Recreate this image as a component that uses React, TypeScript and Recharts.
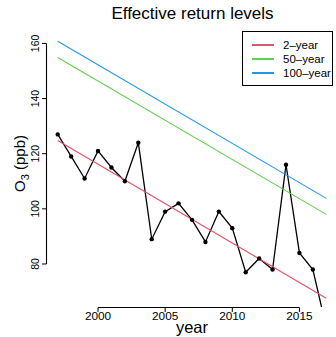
import {
  ComposedChart,
  Line,
  XAxis,
  YAxis,
  Legend,
} from 'recharts';

const years = [
  1997, 1998, 1999, 2000, 2001, 2002, 2003, 2004, 2005, 2006, 2007,
  2008, 2009, 2010, 2011, 2012, 2013, 2014, 2015, 2016, 2017,
];
const ozone = [
  127, 119, 111, 121, 115, 110, 124, 89, 99, 102, 96,
  88, 99, 93, 77, 82, 78, 116, 84, 78, 57,
];

// effective return levels: straight trend lines, start and end values
const levelYears = [1997, 2017];
const level2 = [124.8, 67.6];
const level50 = [154.9, 98.0];
const level100 = [160.8, 103.8];

const xTicks = [2000, 2005, 2010, 2015];
const yTicks = [80, 100, 120, 140, 160];
const xDomain = [1996.2, 2017.5];
const yDomain = [64.4, 164.5];

const W = 336;
const H = 337;
const M = { top: 31, right: 3, bottom: 0, left: 0 };
const Y_W = 47;
const X_H = 30;
const plotW = W - M.left - M.right - Y_W;
const plotH = H - M.top - M.bottom - X_H;
const pxPerYear = plotW / (xDomain[1] - xDomain[0]);
const pxPerUnit = plotH / (yDomain[1] - yDomain[0]);

const FONT = '"Liberation Sans", Arial, Helvetica, sans-serif';

const obsData = years.map((year, i) => ({ year, value: ozone[i] }));
const toLine = (vals: number[]) => levelYears.map((year, i) => ({ year, value: vals[i] }));

const series = [
  { name: '2-year', color: '#DF536B', data: toLine(level2) },
  { name: '50-year', color: '#61D04F', data: toLine(level50) },
  { name: '100-year', color: '#2297E6', data: toLine(level100) },
];

// R-style axis: the axis line runs from first to last tick only
const XTick = (props: any) => {
  const { x, payload } = props;
  const first = payload.value === xTicks[0];
  const span = (xTicks[xTicks.length - 1] - xTicks[0]) * pxPerYear;
  const axisY = M.top + plotH + 0.5;
  return (
    <g>
      {first && <path d={`M${x},${axisY}H${x + span}`} stroke="#000" strokeWidth={1.1} fill="none" />}
      <path d={`M${x},${axisY}V${axisY + 4.5}`} stroke="#000" strokeWidth={1} fill="none" />
      <text x={x} y={320} textAnchor="middle" fontSize={11.8} fontFamily={FONT} fill="#000">
        {payload.value}
      </text>
    </g>
  );
};

const YTick = (props: any) => {
  const { y, payload } = props;
  const first = payload.value === yTicks[0];
  const span = (yTicks[yTicks.length - 1] - yTicks[0]) * pxPerUnit;
  const axisX = M.left + Y_W - 0.5;
  return (
    <g>
      {first && <path d={`M${axisX},${y}V${y - span}`} stroke="#000" strokeWidth={1.1} fill="none" />}
      <path d={`M${axisX},${y}H${axisX - 4.5}`} stroke="#000" strokeWidth={1} fill="none" />
      <text
        x={0}
        y={0}
        transform={`translate(38.5, ${y}) rotate(-90)`}
        textAnchor="middle"
        fontSize={10.5}
        fontFamily={FONT}
        fill="#000"
      >
        {payload.value}
      </text>
    </g>
  );
};

const YLabel = () => (
  <text
    x={0}
    y={0}
    transform="translate(25, 163.5) rotate(-90)"
    textAnchor="middle"
    fontSize={15}
    fontFamily={FONT}
    fill="#000"
    stroke="none"
  >
    O<tspan fontSize={11} dy={4}>3</tspan>
    <tspan dy={-4}> (ppb)</tspan>
  </text>
);

const XLabel = () => (
  <text x={192} y={332.5} textAnchor="middle" fontSize={16.5} fontFamily={FONT} fill="#000">
    year
  </text>
);

const LegendBox = () => (
  <div
    style={{
      width: 91,
      height: 55,
      boxSizing: 'border-box',
      border: '1px solid #000',
      background: '#fff',
      paddingTop: 6,
      fontFamily: FONT,
      fontSize: 11.5,
    }}
  >
    {series.map((s) => (
      <div key={s.name} style={{ display: 'flex', alignItems: 'center', height: 14 }}>
        <span
          style={{ marginLeft: 9, width: 22, height: 1.2, background: s.color, display: 'inline-block' }}
        />
        <span style={{ marginLeft: 9, lineHeight: '14px' }}>{s.name.replace('-', '\u2013')}</span>
      </div>
    ))}
  </div>
);

export default function App() {
  return (
    <div style={{ position: 'absolute', left: 0, top: 0, width: W, height: H, background: '#fff' }}>
      <ComposedChart width={W} height={H} margin={M}>
        <XAxis
          dataKey="year"
          type="number"
          domain={xDomain}
          ticks={xTicks}
          allowDataOverflow
          height={X_H}
          axisLine={false}
          tickLine={false}
          tick={<XTick />}
          label={<XLabel />}
        />
        <YAxis
          dataKey="value"
          type="number"
          domain={yDomain}
          ticks={yTicks}
          allowDataOverflow
          width={Y_W}
          axisLine={false}
          tickLine={false}
          tick={<YTick />}
          label={<YLabel />}
        />
        <Line
          data={obsData}
          dataKey="value"
          name="observed"
          stroke="#000"
          strokeWidth={1.3}
          dot={{ r: 2.2, fill: '#000', stroke: 'none' }}
          legendType="none"
          isAnimationActive={false}
        />
        {series.map((s) => (
          <Line
            key={s.name}
            data={s.data}
            dataKey="value"
            name={s.name}
            stroke={s.color}
            strokeWidth={1.1}
            dot={false}
            isAnimationActive={false}
          />
        ))}
        <Legend
          layout="horizontal"
          verticalAlign="middle"
          align="center"
          content={<LegendBox />}
          wrapperStyle={{ position: 'absolute', left: 242, top: 31, width: 91, height: 55 }}
        />
      </ComposedChart>
      <div
        style={{
          position: 'absolute',
          left: 0,
          width: 385,
          top: 4,
          textAlign: 'center',
          fontFamily: FONT,
          fontSize: 17,
          lineHeight: '20px',
          color: '#000',
          pointerEvents: 'none',
        }}
      >
        Effective return levels
      </div>
    </div>
  );
}
